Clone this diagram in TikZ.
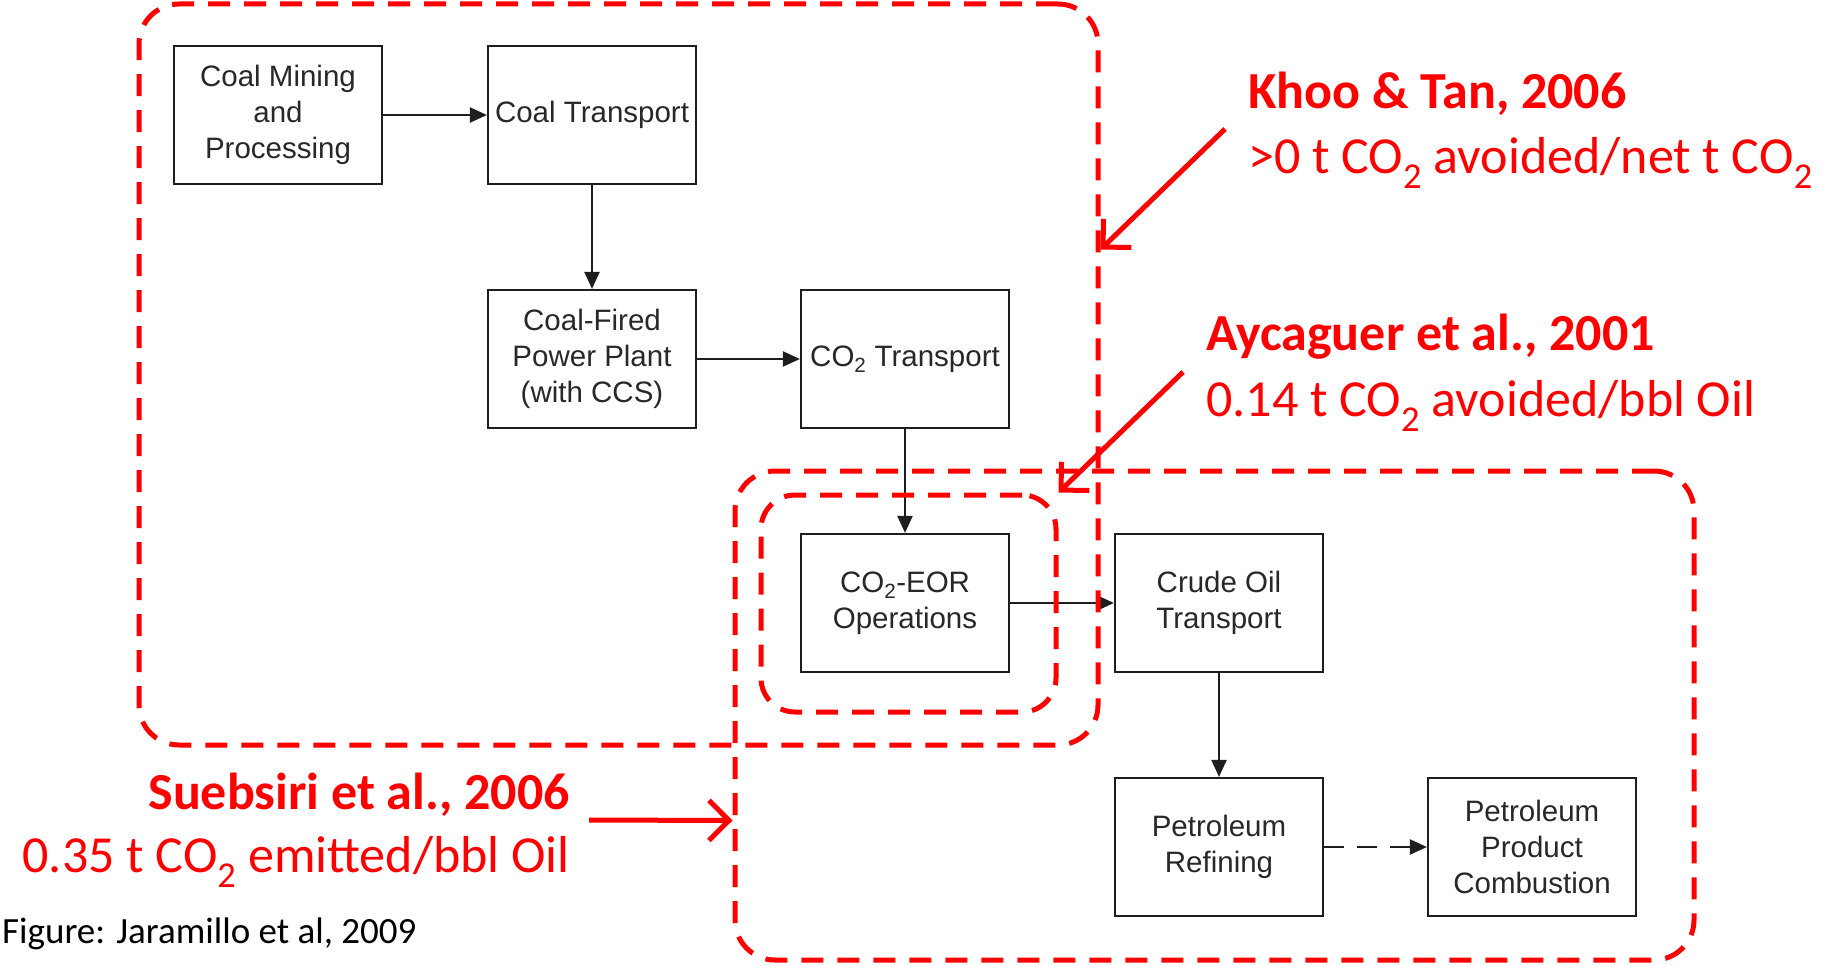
\documentclass[tikz,border=0pt]{standalone}
\usepackage{fontspec}
\setmainfont{Carlito}
\newfontfamily\boxfont{Liberation Sans}
\usetikzlibrary{arrows.meta}
\definecolor{refred}{RGB}{255,0,0}
\definecolor{boxline}{RGB}{30,30,30}
\definecolor{boxtext}{RGB}{40,40,40}

\begin{document}
\begin{tikzpicture}[
    x=1pt, y=-1pt,
    stage/.style={draw=boxline, line width=2.2pt, fill=white,
                  minimum width=208pt, minimum height=138pt, inner sep=0pt,
                  align=center, text=boxtext,
                  font=\boxfont\fontsize{29.5}{36}\selectfont},
    flow/.style={-{Triangle[length=17pt,width=15pt]}, line width=2.2pt, boxline},
    dflow/.style={flow, dash pattern=on 20pt off 13pt},
    region/.style={draw=refred, line width=5pt, dash pattern=on 22pt off 14pt,
                   rounded corners=40pt, inner sep=0pt},
    refarrow/.style={-{Straight Barb[length=20pt,width=40pt]}, refred, line width=5pt},
    reftitle/.style={text=refred, inner sep=0pt, font=\bfseries\fontsize{52}{60}\selectfont},
    refvalue/.style={text=refred, inner sep=0pt, font=\fontsize{52}{60}\selectfont},
]
\useasboundingbox (0,0) rectangle (1836,966);

% Coal side of the chain
\node[stage] (mining) at (278, 115) {Coal Mining\\and\\Processing};
\node[stage] (coaltr) at (592, 115) {Coal Transport};
\node[stage] (plant) at (592, 359) {Coal-Fired\\Power Plant\\(with CCS)};
\node[stage] (co2tr) at (905, 359) {CO\textsubscript{2} Transport};

% Oil side of the chain
\node[stage] (eor) at (905, 603) {CO\textsubscript{2}-EOR\\Operations};
\node[stage] (crude) at (1219, 603) {Crude Oil\\Transport};
\node[stage] (refine) at (1219, 847) {Petroleum\\Refining};
\node[stage] (combust) at (1532, 847) {Petroleum\\Product\\Combustion};

% Flows (solid black, last one dashed)
\draw[flow] (mining) -- (coaltr);
\draw[flow] (coaltr) -- (plant);
\draw[flow] (plant) -- (co2tr);
\draw[flow] (co2tr) -- (eor);
\draw[flow] (eor) -- (crude);
\draw[flow] (crude) -- (refine);
\draw[dflow] (refine) -- (combust);

% Study boundaries (dashed red)
\node[region, minimum width=959pt, minimum height=741pt] (khoobox) at (618.5, 374.5) {};
\node[region, minimum width=959pt, minimum height=489pt] (suebbox) at (1214.5, 715.5) {};
\node[region, minimum width=295pt, minimum height=217pt, rounded corners=34pt] (aycbox) at (908.5, 603.5) {};

% Study labels
\node[reftitle, anchor=base west] (khootitle) at (1248, 108) {Khoo \& Tan, 2006};
\node[refvalue, anchor=base west] (khoovalue) at (1248, 173) {>0 t CO\textsubscript{2} avoided/net t CO\textsubscript{2}};
\node[reftitle, anchor=base west] (ayctitle) at (1206, 350) {Aycaguer et al., 2001};
\node[refvalue, anchor=base west] (aycvalue) at (1206, 416) {0.14 t CO\textsubscript{2} avoided/bbl Oil};
\node[reftitle, anchor=base east] (suebtitle) at (570, 809) {Suebsiri et al., 2006};
\node[refvalue, anchor=base east] (suebvalue) at (570, 872) {0.35 t CO\textsubscript{2} emitted/bbl Oil};
\node[inner sep=0pt, anchor=base west, font=\fontsize{37}{44}\selectfont] (source) at (2, 943) {Figure: Jaramillo et al, 2009};

% Pointers to the boundaries
\coordinate (khootail) at (1225, 129);
\coordinate (ayctail) at (1183, 372);
\coordinate (suebtail) at (589, 820);
\draw[refarrow] (khootail) -- ([yshift=125pt]khoobox.east);
\draw[refarrow] (ayctail) -- (aycbox.north east);
\draw[refarrow] (suebtail) -- ([yshift=-105pt]suebbox.west);
\end{tikzpicture}
\end{document}
